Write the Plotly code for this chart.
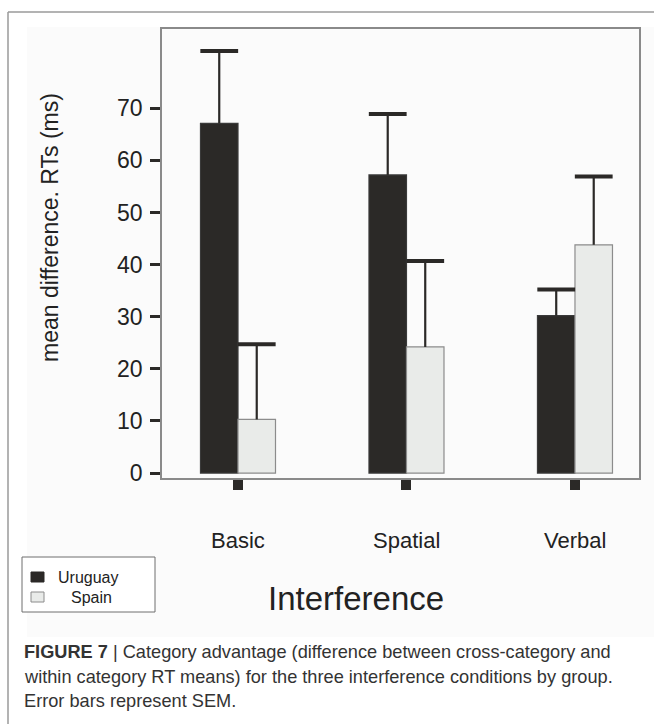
import plotly.graph_objects as go

# ---- data -------------------------------------------------------------
categories = ["Basic", "Spatial", "Verbal"]
groups = ["Uruguay", "Spain"]
uruguay_mean = [67.1, 57.2, 30.2]
uruguay_sem = [13.9, 11.7, 5.0]
spain_mean = [10.3, 24.2, 43.8]
spain_sem = [14.4, 16.5, 13.1]
y_ticks = [0, 10, 20, 30, 40, 50, 60, 70]

# ---- layout geometry (pixels) ----------------------------------------
W, H = 654, 724
PL, PR, PT, PB = 162, 639, 29, 478          # plot area box
BAR_W = 0.2226                              # width of one bar (category units)
OFFSETS = [-BAR_W / 2, BAR_W / 2]           # Uruguay left, Spain right

DARK = "#2b2927"
LIGHT = "#e9ebe9"
FONT = "Liberation Sans, Arial, sans-serif"


def px_x(px):
    """pixel column -> paper x"""
    return (px - PL) / (PR - PL)


def px_y(py):
    """pixel row -> paper y"""
    return (PB - py) / (PB - PT)


fig = go.Figure()

series = [
    (groups[0], uruguay_mean, uruguay_sem, DARK, "#3a3a3a"),
    (groups[1], spain_mean, spain_sem, LIGHT, "#8c8c8c"),
]

for k, (name, means, sems, fill, edge) in enumerate(series):
    xs = [i + OFFSETS[k] for i in range(len(categories))]
    fig.add_trace(go.Bar(
        x=xs, y=means, width=BAR_W, name=name,
        marker=dict(color=fill, line=dict(color=edge, width=1.2)),
        showlegend=False,
    ))

# error bars: stem from bar top up to mean + SEM, then a thick cap
for k, (name, means, sems, fill, edge) in enumerate(series):
    xs = [i + OFFSETS[k] for i in range(len(categories))]
    sx, sy = [], []
    for x, m, s in zip(xs, means, sems):
        sx += [x, x, None]
        sy += [m, m + s, None]
    fig.add_trace(go.Scatter(
        x=sx, y=sy, mode="lines", showlegend=False, hoverinfo="skip",
        line=dict(color=DARK, width=2.2),
    ))
    fig.add_trace(go.Scatter(
        x=xs, y=[m + s for m, s in zip(means, sems)], mode="markers",
        showlegend=False, hoverinfo="skip",
        marker=dict(symbol="line-ew", size=27,
                    line=dict(color=DARK, width=4)),
    ))

annotations = []
shapes = [
    # faint panel behind the chart
    dict(type="rect", xref="paper", yref="paper", layer="below",
         x0=px_x(27), x1=px_x(W), y0=px_y(637), y1=px_y(27),
         fillcolor="#fbfbfb", line=dict(width=0)),
    # outer frame: top rule and left rule
    dict(type="line", xref="paper", yref="paper",
         x0=px_x(8), x1=px_x(W), y0=px_y(12), y1=px_y(12),
         line=dict(color="#9a9a9a", width=1.5)),
    dict(type="line", xref="paper", yref="paper",
         x0=px_x(8), x1=px_x(8), y0=px_y(12), y1=px_y(H),
         line=dict(color="#9a9a9a", width=1.5)),
]

# category labels under the axis
for i, c in enumerate(categories):
    annotations.append(dict(
        x=i, y=px_y(540), xref="x", yref="paper", text=c, showarrow=False,
        font=dict(family=FONT, size=22, color="#222"),
        xanchor="center", yanchor="middle",
    ))

annotations.append(dict(
    x=px_x(356), y=px_y(598), xref="paper", yref="paper",
    text="Interference", showarrow=False,
    font=dict(family=FONT, size=33, color="#222"),
    xanchor="center", yanchor="middle",
))

annotations.append(dict(
    x=px_x(50), y=px_y(228), xref="paper", yref="paper",
    text="mean difference. RTs (ms)", showarrow=False, textangle=-90,
    font=dict(family=FONT, size=23, color="#222"),
    xanchor="center", yanchor="middle",
))

# legend box drawn by hand
LEG_X0, LEG_X1, LEG_Y0, LEG_Y1 = 22, 155, 557, 612
shapes.append(dict(type="rect", xref="paper", yref="paper",
                   x0=px_x(LEG_X0), x1=px_x(LEG_X1),
                   y0=px_y(LEG_Y1), y1=px_y(LEG_Y0),
                   fillcolor="white", line=dict(color="#6e6e6e", width=1)))
legend_rows = [(groups[0], DARK, "#2b2927", 577, 56),
               (groups[1], LIGHT, "#8c8c8c", 597, 69)]
for name, fill, edge, cy, tx in legend_rows:
    shapes.append(dict(type="rect", xref="paper", yref="paper",
                       x0=px_x(31), x1=px_x(44), y0=px_y(cy + 5), y1=px_y(cy - 5),
                       fillcolor=fill, line=dict(color=edge, width=1)))
    annotations.append(dict(
        x=px_x(tx), y=px_y(cy), xref="paper", yref="paper", text=name,
        showarrow=False, xanchor="left", yanchor="middle",
        font=dict(family=FONT, size=16, color="#222"),
    ))

caption = [
    "<b>FIGURE 7</b> | Category advantage (difference between cross-category and",
    "within category RT means) for the three interference conditions by group.",
    "Error bars represent SEM.",
]
for j, line in enumerate(caption):
    annotations.append(dict(
        x=px_x(22), y=px_y(652 + 24.5 * j), xref="paper", yref="paper",
        text=line, showarrow=False, align="left",
        font=dict(family=FONT, size=18.2, color="#333"),
        xanchor="left", yanchor="middle",
    ))

fig.update_layout(
    width=W, height=H,
    margin=dict(l=PL, r=W - PR, t=PT, b=H - PB, pad=0),
    paper_bgcolor="white",
    plot_bgcolor="#f8f8f8",
    barmode="overlay",
    showlegend=False,
    annotations=annotations,
    shapes=shapes,
    xaxis=dict(
        range=[-0.451, 2.38], tickvals=[0, 1, 2], showticklabels=False,
        ticks="outside", ticklen=10, tickwidth=10, tickcolor=DARK,
        showgrid=False, zeroline=False,
        showline=True, linecolor="#8a8a8a", linewidth=1.5, mirror=True,
    ),
    yaxis=dict(
        range=[-0.94, 85.2], tickvals=y_ticks,
        ticks="outside", ticklen=10, tickwidth=3, tickcolor=DARK,
        ticklabelstandoff=3,
        tickfont=dict(family=FONT, size=23, color="#222"),
        showgrid=False, zeroline=False,
        showline=True, linecolor="#8a8a8a", linewidth=1.5, mirror=True,
    ),
)

fig.write_html("out.html")
